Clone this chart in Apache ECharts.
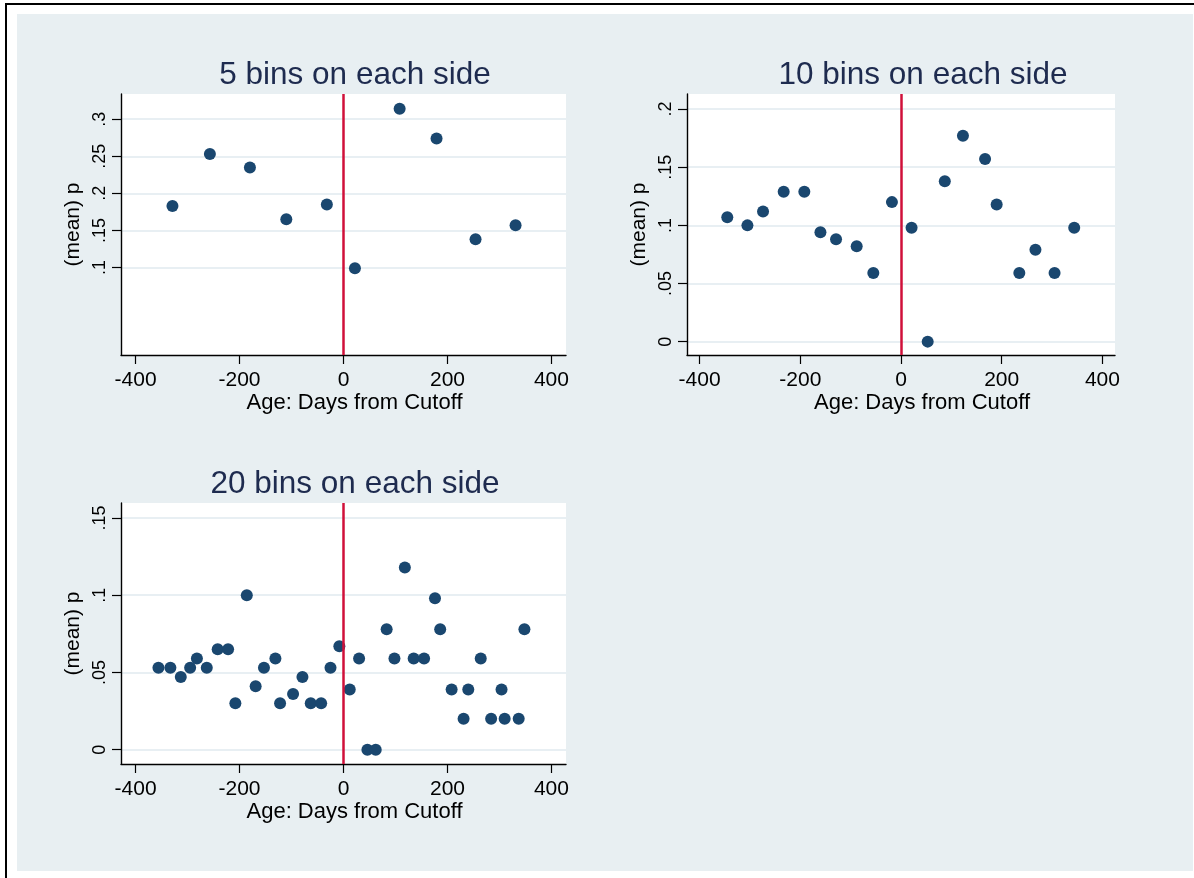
<!DOCTYPE html>
<html><head><meta charset="utf-8">
<script src="https://cdn.jsdelivr.net/npm/echarts@6/dist/echarts.min.js"></script>
<style>
html,body{margin:0;padding:0;background:#fff;overflow:hidden;}
#frame{position:absolute;left:5px;top:3px;width:1189px;height:875px;border-top:2px solid #000;border-left:2px solid #000;}
#bg{position:absolute;left:17px;top:14px;width:1176px;height:857px;background:#e8eff2;}
#chart{position:absolute;left:0;top:0;width:1194px;height:878px;}
</style></head><body>
<div id="frame"></div><div id="bg"></div><div id="chart"></div>
<script>
const panelTitles = ['5 bins on each side', '10 bins on each side', '20 bins on each side'];
const xName = 'Age: Days from Cutoff';
const yName = '(mean) p';
const xTicks = [-400, -200, 0, 200, 400];
const yTicks5 = [0.1, 0.15, 0.2, 0.25, 0.3];
const yTicks10 = [0, 0.05, 0.1, 0.15, 0.2];
const yTicks20 = [0, 0.05, 0.1, 0.15];

const bins5X = [-329, -257, -180, -110, -32, 22, 108, 179, 254, 331];
const bins5Y = [0.183, 0.253, 0.235, 0.165, 0.185, 0.099, 0.314, 0.274, 0.138, 0.157];

const bins10X = [-345, -305, -274, -233, -192, -160, -129, -88, -55, -18, 21, 53, 87, 123, 167, 190, 235, 267, 305, 344];
const bins10Y = [0.107, 0.100, 0.112, 0.129, 0.129, 0.094, 0.088, 0.082, 0.059, 0.120, 0.098, 0.000, 0.138, 0.177, 0.157, 0.118, 0.059, 0.079, 0.059, 0.098];

const bins20X = [-356, -333, -313, -295, -282, -263, -242, -222, -208, -186, -169, -153, -131, -122, -97, -79, -63, -43, -25, -8, 12, 30, 46, 62, 83, 98, 118, 135, 155, 176, 186, 208, 231, 240, 264, 284, 304, 310, 337, 348];
const bins20Y = [0.053, 0.053, 0.047, 0.053, 0.059, 0.053, 0.065, 0.065, 0.030, 0.100, 0.041, 0.053, 0.059, 0.030, 0.036, 0.047, 0.030, 0.030, 0.053, 0.067, 0.039, 0.059, 0.000, 0.000, 0.078, 0.059, 0.118, 0.059, 0.059, 0.098, 0.078, 0.039, 0.020, 0.039, 0.059, 0.020, 0.039, 0.020, 0.020, 0.078];

const FONT = 'Liberation Sans, Arial, sans-serif';
const panels = [
  {title: panelTitles[0], tx: 355, ty: 59, grid: {left: 121, top: 94, width: 445, height: 261}, xr: [-428, 428], yr: [-0.018, 0.334], yt: yTicks5, xs: bins5X, ys: bins5Y, xpad: 22},
  {title: panelTitles[1], tx: 923, ty: 59, grid: {left: 687, top: 94, width: 428, height: 261}, xr: [-425, 425], yr: [-0.0115, 0.213], yt: yTicks10, xs: bins10X, ys: bins10Y, xpad: 42},
  {title: panelTitles[2], tx: 355, ty: 468, grid: {left: 121, top: 503, width: 445, height: 261}, xr: [-428, 428], yr: [-0.0093, 0.1597], yt: yTicks20, xs: bins20X, ys: bins20Y, xpad: 22}
];

function fmtY(v) {
  const s = String(+v.toFixed(4));
  return s.replace(/^0\./, '.');
}

const option = {
  animation: false,
  title: panels.map(p => ({
    text: p.title, left: p.tx, top: p.ty, textAlign: 'center', padding: 0,
    textStyle: {fontSize: 31.5, fontWeight: 'normal', color: '#1e2b4f', fontFamily: FONT}
  })),
  grid: panels.map(p => Object.assign({show: true, backgroundColor: '#ffffff', borderWidth: 0, containLabel: false, outerBoundsMode: 'none'}, p.grid)),
  xAxis: panels.map((p, i) => ({
    type: 'value', gridIndex: i, min: p.xr[0], max: p.xr[1],
    axisLine: {show: true, onZero: false, lineStyle: {color: '#000', width: 1.4}},
    axisTick: {show: true, length: 9, customValues: xTicks, lineStyle: {color: '#000', width: 1.2}},
    axisLabel: {customValues: xTicks, fontSize: 21, color: '#000', margin: 15, fontFamily: FONT},
    splitLine: {show: false},
    name: xName, nameLocation: 'middle', nameGap: 37,
    nameTextStyle: {fontSize: 22, color: '#000', fontFamily: FONT, padding: [0, 0, 0, p.xpad]}
  })),
  yAxis: panels.map((p, i) => ({
    type: 'value', gridIndex: i, min: p.yr[0], max: p.yr[1],
    axisLine: {show: true, onZero: false, lineStyle: {color: '#000', width: 1.4}},
    axisTick: {show: true, length: 9, customValues: p.yt, lineStyle: {color: '#000', width: 1.2}},
    axisLabel: {customValues: p.yt, fontSize: 18, color: '#000', margin: 12, rotate: 90, fontFamily: FONT, formatter: fmtY},
    splitLine: {show: true, lineStyle: {color: '#e8eff3', width: 2}},
    name: yName, nameLocation: 'middle', nameGap: 37,
    nameTextStyle: {fontSize: 21, color: '#000', fontFamily: FONT}
  })),
  series: panels.map((p, i) => ({
    type: 'scatter', xAxisIndex: i, yAxisIndex: i,
    symbol: 'circle', symbolSize: 12,
    itemStyle: {color: '#1a476f', opacity: 1},
    emphasis: {disabled: true},
    data: p.xs.map((x, k) => [x, p.ys[k]]),
    markLine: {
      silent: true, symbol: ['none', 'none'], label: {show: false},
      lineStyle: {color: '#d0103a', width: 2.5, type: 'solid', opacity: 1},
      emphasis: {disabled: true},
      data: [{xAxis: 0}]
    }
  }))
};

const chart = echarts.init(document.getElementById('chart'), null, {renderer: 'canvas'});
chart.setOption(option);
</script>
</body></html>
